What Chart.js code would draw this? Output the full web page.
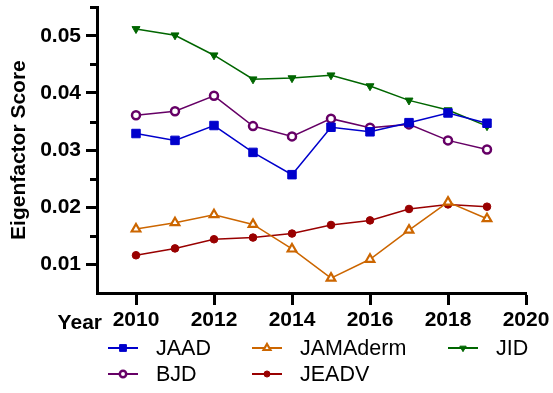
<!DOCTYPE html>
<html>
<head>
<meta charset="utf-8">
<script src="https://cdn.jsdelivr.net/npm/chart.js@4.4.1/dist/chart.umd.min.js"></script>
<style>
  html, body { margin: 0; padding: 0; background: #fff; }
  #wrap { width: 553px; height: 393px; }
</style>
</head>
<body>
<div id="wrap"><canvas id="chart"></canvas></div>
<script>
// Datos
const years = [2010, 2011, 2012, 2013, 2014, 2015, 2016, 2017, 2018, 2019];
const jaad     = [0.0329, 0.0317, 0.0343, 0.0296, 0.0257, 0.0340, 0.0332, 0.0348, 0.0365, 0.0347];
const bjd      = [0.0361, 0.0368, 0.0395, 0.0342, 0.0324, 0.0355, 0.0339, 0.0345, 0.0317, 0.0301];
const jamaderm = [0.0162, 0.0173, 0.0187, 0.0170, 0.0127, 0.0076, 0.0109, 0.0160, 0.0209, 0.0180];
const jeadv    = [0.0116, 0.0128, 0.0144, 0.0147, 0.0154, 0.0169, 0.0177, 0.0197, 0.0205, 0.0201];
const jid      = [0.0512, 0.0501, 0.0466, 0.0424, 0.0426, 0.0431, 0.0412, 0.0387, 0.0370, 0.0342];

const yTicks = [0.01, 0.02, 0.03, 0.04, 0.05];
const yMinorTicks = [0.015, 0.025, 0.035, 0.045, 0.055];
const xTicks = [2010, 2012, 2014, 2016, 2018, 2020];

const FONT = "'Liberation Sans', Arial, sans-serif";

const pts = vals => vals.map((v, i) => ({x: years[i], y: v}));

function series(label, vals, color, style, extra){
  return Object.assign({
    label,
    data: pts(vals),
    borderColor: color,
    backgroundColor: color,
    pointBackgroundColor: color,
    pointBorderColor: color,
    borderWidth: 1.5,
    pointStyle: style,
    pointRadius: 4,
    pointBorderWidth: 1,
    tension: 0
  }, extra || {});
}

const datasets = [
  series('JAAD', jaad, '#0000cc', 'rect', {pointRadius: 6}),
  series('BJD', bjd, '#660066', 'circle', {pointBackgroundColor: '#fff', pointBorderWidth: 2.5, pointRadius: 4}),
  series('JAMAderm', jamaderm, '#cc6600', 'triangle', {pointBackgroundColor: '#fff', pointBorderWidth: 2.2, pointRadius: 5}),
  series('JEADV', jeadv, '#990000', 'circle', {pointRadius: 3.8}),
  series('JID', jid, '#006600', 'triangle', {pointRadius: 4.6, pointRotation: 180})
];

// Ticks menores del eje Y, texto "Year" y leyenda
const extras = {
  id: 'extras',
  afterDraw(chart){
    const ctx = chart.ctx;
    const y = chart.scales.y, x = chart.scales.x;
    ctx.save();
    ctx.strokeStyle = '#000';
    ctx.lineWidth = 3;
    yMinorTicks.forEach(v => {
      const py = Math.round(y.getPixelForValue(v)) + 0.5;
      ctx.beginPath();
      ctx.moveTo(x.left - 7, py);
      ctx.lineTo(x.left, py);
      ctx.stroke();
    });

    ctx.fillStyle = '#000';
    ctx.font = 'bold 21px ' + FONT;
    ctx.textAlign = 'right';
    ctx.textBaseline = 'alphabetic';
    ctx.fillText('Year', 102, 329);

    // leyenda
    const order = [0, 2, 4, 1, 3];
    const cols = [108, 252, 448];
    const rows = [348, 374];
    order.forEach((di, k) => {
      const ds = chart.data.datasets[di];
      const lx = cols[k % 3], ly = rows[Math.floor(k / 3)];
      ctx.strokeStyle = ds.borderColor;
      ctx.lineWidth = 2;
      ctx.beginPath();
      ctx.moveTo(lx, ly);
      ctx.lineTo(lx + 30, ly);
      ctx.stroke();
      const r = ds.pointRadius * 0.8;
      if (Chart.helpers && Chart.helpers.drawPoint) {
        ctx.fillStyle = ds.pointBackgroundColor;
        ctx.strokeStyle = ds.pointBorderColor;
        ctx.lineWidth = ds.pointBorderWidth;
        Chart.helpers.drawPoint(ctx, {pointStyle: ds.pointStyle, radius: r, rotation: ds.pointRotation || 0, borderWidth: ds.pointBorderWidth}, lx + 15, ly);
      }
      ctx.fillStyle = '#000';
      ctx.font = '21.5px ' + FONT;
      ctx.textAlign = 'left';
      ctx.textBaseline = 'middle';
      ctx.fillText(ds.label, lx + 48, ly + 1);
    });
    ctx.restore();
  }
};

new Chart(document.getElementById('chart'), {
  type: 'line',
  data: {datasets},
  plugins: [extras],
  options: {
    responsive: true,
    maintainAspectRatio: false,
    animation: false,
    layout: {padding: {top: 7, right: 27, left: 0, bottom: 0}},
    plugins: {legend: {display: false}, tooltip: {enabled: false}},
    scales: {
      x: {
        type: 'linear',
        min: 2009,
        max: 2020,
        afterBuildTicks: s => { s.ticks = xTicks.map(v => ({value: v})); },
        afterFit: s => { s.height = 100; s.paddingLeft = 0; s.paddingRight = 0; },
        border: {display: true, color: '#000', width: 3},
        grid: {display: true, drawOnChartArea: false, drawTicks: true, tickLength: 12, tickWidth: 3, tickColor: '#000'},
        ticks: {
          color: '#000',
          font: {family: FONT, size: 21, weight: 'bold'},
          padding: 3,
          maxRotation: 0,
          autoSkip: false,
          callback: v => String(v)
        }
      },
      y: {
        min: 0.005,
        max: 0.055,
        afterBuildTicks: s => { s.ticks = yTicks.map(v => ({value: v})); },
        afterFit: s => { s.width = 97; s.paddingTop = 0; s.paddingBottom = 0; },
        border: {display: true, color: '#000', width: 3},
        grid: {display: true, drawOnChartArea: false, drawTicks: true, tickLength: 11, tickWidth: 3, tickColor: '#000'},
        ticks: {
          color: '#000',
          font: {family: FONT, size: 21, weight: 'bold'},
          padding: 5,
          autoSkip: false,
          callback: v => v.toFixed(2)
        },
        title: {
          display: true,
          text: 'Eigenfactor Score',
          color: '#000',
          font: {family: FONT, size: 21, weight: 'bold'},
          padding: {top: 7, bottom: 0}
        }
      }
    }
  }
});
</script>
</body>
</html>
